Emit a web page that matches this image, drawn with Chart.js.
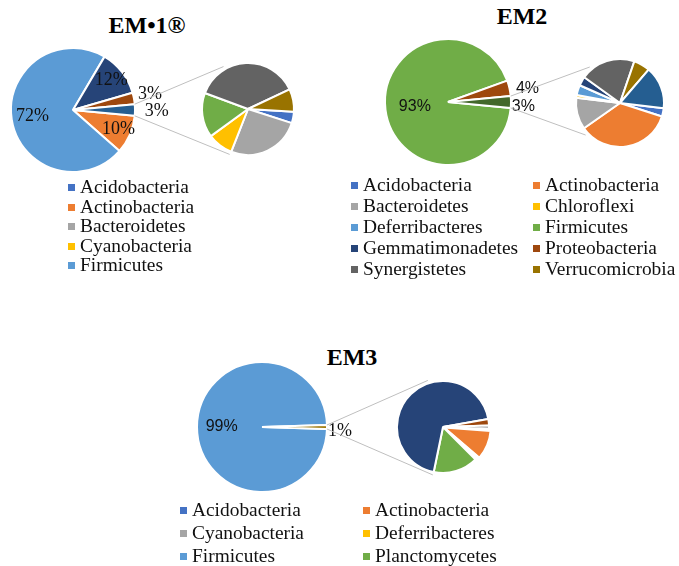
<!DOCTYPE html>
<html>
<head>
<meta charset="utf-8">
<script src="https://cdn.jsdelivr.net/npm/chart.js@4.4.1/dist/chart.umd.min.js"></script>
<style>
body { margin: 0; background: #fff; }
#page { position: relative; width: 679px; height: 566px; overflow: hidden; font-family: "Liberation Serif", "Times New Roman", serif; }
canvas { position: absolute; }
.title { position: absolute; font-weight: bold; font-size: 24px; line-height: 24px; white-space: nowrap; transform: translateX(-50%); color: #000; }
.leg { position: absolute; font-size: 19.4px; line-height: 20px; white-space: nowrap; color: #111; }
.leg i { display: inline-block; width: 7px; height: 7px; margin-right: 5px; vertical-align: middle; position: relative; top: -1px; }
</style>
</head>
<body>
<div id="page"></div>
<script>
var palette = ['#4472C4','#ED7D31','#A5A5A5','#FFC000','#5B9BD5','#70AD47','#264478','#9E480E','#636363','#997300','#255E91','#43682B'];

// EM•1®
var em1Names = ['Acidobacteria','Actinobacteria','Bacteroidetes','Cyanobacteria','Firmicutes','Gemmatimonadetes','Proteobacteria','Spirochaetes','Synergistetes','Verrucomicrobia'];
var em1Values = [0.12, 10, 0.78, 0.27, 72, 0.47, 12, 3, 1.12, 0.24];

// EM2
var em2Names = ['Acidobacteria','Actinobacteria','Bacteroidetes','Chloroflexi','Deferribacteres','Firmicutes','Gemmatimonadetes','Proteobacteria','Synergistetes','Verrucomicrobia','Tenericutes'];
var em2Values = [0.09, 1.06, 0.35, 0.03, 0.11, 93, 0.10, 4, 0.61, 0.18, 0.47];

// EM3
var em3Names = ['Acidobacteria','Actinobacteria','Cyanobacteria','Deferribacteres','Firmicutes','Planctomycetes','Proteobacteria','Synergistetes','Verrucomicrobia'];
var em3Values = [0.006, 0.10, 0.006, 0.006, 99, 0.155, 0.68, 0.022, 0.011];

var splitBelow = 2; // values under this go into the second pie

var serif = '18px "Liberation Serif"', sans = '16px "Liberation Sans"';

var panels = [
  { title: 'EM•1®', names: em1Names, values: em1Values, titleX: 147, titleY: 25,
    main: { cx: 73, cy: 110, r: 62 }, sec: { cx: 248, cy: 109, r: 46, start: 3.5 }, lines: [240, 112],
    labelDist: [0.8, 0.66, 0.78, 1.27, 1.35], labelTurn: [0, 0, 0, -1, 1], labelFont: [serif, serif, serif, serif, serif],
    explode: {}, legend: { count: 5, cols: [68], y0: 187, dy: 19.6 } },
  { title: 'EM2', names: em2Names, values: em2Values, titleX: 522, titleY: 16,
    main: { cx: 448, cy: 102, r: 63 }, sec: { cx: 620, cy: 103, r: 44, start: 7 }, lines: [230, 137],
    labelDist: [0.53, 1.28, 1.2], labelTurn: [0, 2.7, 3.8], labelFont: [sans, sans, sans],
    explode: {}, legend: { count: 10, cols: [351, 533], y0: 185, dy: 21 } },
  { title: 'EM3', names: em3Names, values: em3Values, titleX: 352, titleY: 357,
    main: { cx: 262, cy: 427, r: 65 }, sec: { cx: 443, cy: 427, r: 46, start: 2 }, lines: [252, 102],
    labelDist: [0.62, 1.2], labelTurn: [0, 3], labelFont: [sans, serif],
    explode: { 'Actinobacteria': 5 }, legend: { count: 6, cols: [180, 363], y0: 510, dy: 23 } }
];

var page = document.getElementById('page');

function addCanvas(left, top, w, h) {
  var c = document.createElement('canvas');
  c.width = w; c.height = h;
  c.style.left = left + 'px'; c.style.top = top + 'px';
  c.style.width = w + 'px'; c.style.height = h + 'px';
  page.appendChild(c);
  return c;
}

function splitData(names, values) {
  var main = [], sec = [], other = 0;
  values.forEach(function(v, i) {
    var item = { name: names[i], v: v, c: palette[i] };
    if (v < splitBelow) { sec.push(item); other += v; }
    else main.push(item);
  });
  main.push({ name: 'Other', v: other, c: palette[values.length] });
  return { main: main, sec: sec };
}

function labelPlugin(dist, turn, fonts) {
  return {
    id: 'pctLabels',
    afterDatasetsDraw: function(chart) {
      var meta = chart.getDatasetMeta(0);
      var data = chart.data.datasets[0].data;
      var total = data.reduce(function(a, b) { return a + b; }, 0);
      var ctx = chart.ctx;
      ctx.save();
      ctx.textAlign = 'center';
      ctx.textBaseline = 'middle';
      ctx.fillStyle = '#111';
      meta.data.forEach(function(arc, i) {
        var mid = (arc.startAngle + arc.endAngle) / 2 + turn[i] * Math.PI / 180;
        var d = arc.outerRadius * dist[i];
        ctx.font = fonts[i];
        ctx.fillText(Math.round(data[i] / total * 100) + '%', arc.x + Math.cos(mid) * d, arc.y + Math.sin(mid) * d);
      });
      ctx.restore();
    }
  };
}

function connectorPlugin(sec, up, down) {
  return {
    id: 'connector',
    afterDraw: function(chart) {
      var meta = chart.getDatasetMeta(0);
      var arc = meta.data[meta.data.length - 1];
      var sa = sec.getDatasetMeta(0).data[0];
      var sx = sa.x + sec.canvas.offsetLeft - chart.canvas.offsetLeft;
      var sy = sa.y + sec.canvas.offsetTop - chart.canvas.offsetTop;
      var sr = sa.outerRadius + 3;
      var ctx = chart.ctx;
      ctx.save();
      ctx.strokeStyle = '#BFBFBF';
      ctx.lineWidth = 1;
      [[arc.startAngle, up], [arc.endAngle, down]].forEach(function(p) {
        var a = p[1] * Math.PI / 180;
        ctx.beginPath();
        ctx.moveTo(arc.x + Math.cos(p[0]) * arc.outerRadius, arc.y + Math.sin(p[0]) * arc.outerRadius);
        ctx.lineTo(sx + Math.cos(a) * sr, sy + Math.sin(a) * sr);
        ctx.stroke();
      });
      ctx.restore();
    }
  };
}

var baseOptions = {
  responsive: false,
  animation: false,
  events: [],
  plugins: { legend: { display: false }, tooltip: { enabled: false } }
};

panels.forEach(function(p) {
  var parts = splitData(p.names, p.values);

  // title
  var t = document.createElement('div');
  t.className = 'title';
  t.textContent = p.title;
  t.style.left = p.titleX + 'px';
  t.style.top = (p.titleY - 12) + 'px';
  page.appendChild(t);

  // second pie
  var sc = addCanvas(p.sec.cx - 60, p.sec.cy - 60, 120, 120);
  var secChart = new Chart(sc, {
    type: 'pie',
    data: {
      labels: parts.sec.map(function(d) { return d.name; }),
      datasets: [{
        data: parts.sec.map(function(d) { return d.v; }),
        backgroundColor: parts.sec.map(function(d) { return d.c; }),
        offset: parts.sec.map(function(d) { return p.explode[d.name] || 0; }),
        borderColor: '#fff',
        borderWidth: 2
      }]
    },
    options: Object.assign({}, baseOptions, { radius: p.sec.r, rotation: 90 + p.sec.start })
  });

  // main pie, canvas stretches to the second pie so the connectors fit
  var left = p.main.cx - 80;
  var w = p.sec.cx - left;
  var mc = addCanvas(left, p.main.cy - 75, w, 150);
  var mainTotal = parts.main.reduce(function(a, d) { return a + d.v; }, 0);
  var otherShare = parts.main[parts.main.length - 1].v / mainTotal;
  new Chart(mc, {
    type: 'pie',
    data: {
      labels: parts.main.map(function(d) { return d.name; }),
      datasets: [{
        data: parts.main.map(function(d) { return d.v; }),
        backgroundColor: parts.main.map(function(d) { return d.c; }),
        borderColor: '#fff',
        borderWidth: 2
      }]
    },
    options: Object.assign({}, baseOptions, {
      radius: p.main.r,
      rotation: 90 + otherShare * 180,
      layout: { padding: { left: 0, right: w - 160, top: 0, bottom: 0 } }
    }),
    plugins: [connectorPlugin(secChart, p.lines[0], p.lines[1]), labelPlugin(p.labelDist, p.labelTurn, p.labelFont)]
  });

  // legend
  var cols = p.legend.cols.length;
  for (var i = 0; i < p.legend.count; i++) {
    var row = Math.floor(i / cols), col = i % cols;
    var item = document.createElement('div');
    item.className = 'leg';
    item.style.left = p.legend.cols[col] + 'px';
    item.style.top = (p.legend.y0 + row * p.legend.dy - 10) + 'px';
    var sw = document.createElement('i');
    sw.style.background = palette[i];
    item.appendChild(sw);
    item.appendChild(document.createTextNode(p.names[i]));
    page.appendChild(item);
  }
});
</script>
</body>
</html>
